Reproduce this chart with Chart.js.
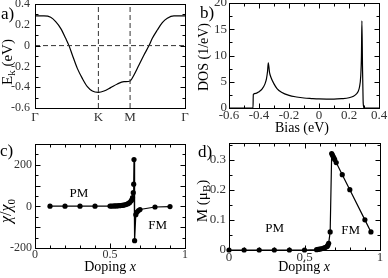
<!DOCTYPE html>
<html>
<head>
<meta charset="utf-8">
<script src="https://cdn.jsdelivr.net/npm/chart.js@4.4.1/dist/chart.umd.min.js"></script>
<style>
  body { margin: 0; background: #fff; }
  #wrap { position: relative; width: 388px; height: 278px; overflow: hidden; }
  canvas { position: absolute; }
</style>
</head>
<body>
<div id="wrap">
  <canvas id="bandChart" width="194" height="139" style="left:0;top:0"></canvas>
  <canvas id="dosChart" width="194" height="139" style="left:194px;top:0"></canvas>
  <canvas id="chiChart" width="194" height="139" style="left:0;top:139px"></canvas>
  <canvas id="magChart" width="194" height="139" style="left:194px;top:139px"></canvas>
</div>
<script>
// a) band along the path Γ-K-M-Γ
var bandK = [0, 0.189, 0.330, 0.435, 0.540, 0.645, 0.715, 0.785, 0.890, 0.995, 1.101, 1.206, 1.333,
  1.451, 1.591, 1.732, 1.872, 2.0, 2.082, 2.187, 2.292, 2.398, 2.468, 2.573, 2.678, 2.783, 2.923, 3.155];
var bandE = [0.285, 0.285, 0.272, 0.230, 0.166, 0.070, 0.0, -0.090, -0.219, -0.315, -0.395, -0.437, -0.449,
  -0.437, -0.404, -0.369, -0.347, -0.340, -0.283, -0.187, -0.090, 0.0, 0.070, 0.150, 0.220, 0.262, 0.285, 0.285];
var kPoints = [0, 1.333, 2.0, 3.155];
var kLabels = ["Γ", "K", "M", "Γ"];
var bandYTicks = [-0.6, -0.4, -0.2, 0, 0.2, 0.4];
var bandYLabels = ["-0.6", "-0.4", "-0.2", "0", "0.2", "0.4"];

// b) density of states
var dosBias = [-0.6, -0.44, -0.438, -0.42, -0.40, -0.38, -0.36, -0.35, -0.343, -0.338, -0.33, -0.32, -0.30,
  -0.28, -0.25, -0.20, -0.15, -0.10, -0.05, 0, 0.05, 0.10, 0.15, 0.20, 0.23, 0.25, 0.26, 0.27, 0.278,
  0.283, 0.286, 0.29, 0.294, 0.298, 0.30, 0.4];
var dosVal = [0, 0, 2.6, 2.8, 3.1, 3.6, 4.6, 5.6, 7.0, 8.6, 6.8, 5.8, 4.6,
  3.7, 3.0, 2.4, 2.1, 1.9, 1.8, 1.72, 1.7, 1.7, 1.78, 1.95, 2.25, 2.7, 3.1, 4.0, 6.0,
  10, 16.6, 8, 1.5, 0.2, 0, 0];
var dosXTicks = [-0.6, -0.4, -0.2, 0, 0.2, 0.4];
var dosXLabels = ["-0.6", "-0.4", "-0.2", "0", "0.2", "0.4"];
var dosYTicks = [0, 5, 10, 15, 20];
var dosYLabels = ["0", "5", "10", "15", "20"];

// c) susceptibility vs doping
var chiX = [0.1, 0.2, 0.3, 0.4, 0.5, 0.51, 0.52, 0.53, 0.54, 0.55, 0.56, 0.57, 0.58, 0.59, 0.60, 0.61,
  0.62, 0.63, 0.64, 0.645, 0.65, 0.655, 0.658, 0.66, 0.664, 0.672, 0.68, 0.69, 0.70, 0.80, 0.90];
var chiY = [1, 1, 1.1, 1.3, 1.6, 1.8, 2, 2.2, 2.5, 2.9, 3.4, 4, 4.8, 5.8, 8, 10,
  13, 18, 26, 32, 42, 66, 107, 225, -165, -40, -27, -20, -15, -3, -1];
var dopingTicks = [0, 0.5, 1];
var dopingLabels = ["0", "0.5", "1"];
var chiYTicks = [-200, 0, 200];
var chiYLabels = ["-200", "0", "200"];

// d) magnetization vs doping
var magX = [0, 0.1, 0.2, 0.3, 0.4, 0.5, 0.58, 0.59, 0.6, 0.61, 0.62, 0.63, 0.64, 0.65, 0.655, 0.66,
  0.67, 0.68, 0.685, 0.69, 0.695, 0.70, 0.71, 0.75, 0.8, 0.9, 0.94];
var magM = [0, 0, 0, 0, 0, 0, 0.001, 0.002, 0.003, 0.004, 0.005, 0.007, 0.009, 0.012, 0.016, 0.022,
  0.06, 0.32, 0.315, 0.31, 0.305, 0.30, 0.29, 0.25, 0.2, 0.1, 0.06];
var magYTicks = [0, 0.1, 0.2, 0.3];
var magYLabels = ["0", "0.1", "0.2", "0.3"];

var SERIF = "'Liberation Serif', 'Times New Roman', serif";

function pts(xs, ys) {
  return xs.map(function (x, i) { return { x: x, y: ys[i] }; });
}

function scaleOpts(min, max, vals, labels, size, pad, boxSize, horiz) {
  return {
    type: "linear", min: min, max: max,
    grid: { display: false, drawTicks: false },
    border: { display: false },
    afterBuildTicks: function (s) {
      s.ticks = vals.map(function (v) { return { value: v }; });
    },
    afterFit: function (s) {
      if (horiz) s.height = boxSize; else s.width = boxSize;
      s.paddingTop = s.paddingBottom = s.paddingLeft = s.paddingRight = 0;
    },
    ticks: {
      autoSkip: false, maxRotation: 0, padding: pad, color: "#333",
      font: { family: SERIF, size: size },
      callback: function (v, i) { return labels[i]; }
    }
  };
}

function richText(ctx, parts, x, y, size, rotate, align) {
  function font(p) {
    return (p.it ? "italic " : "") + Math.round(p.sub ? size * 0.7 : size) + "px " + SERIF;
  }
  var w = 0;
  parts.forEach(function (p) { ctx.font = font(p); w += ctx.measureText(p.t).width; });
  ctx.save();
  ctx.translate(x, y);
  if (rotate) ctx.rotate(-Math.PI / 2);
  var cx = align === "left" ? 0 : -w / 2;
  parts.forEach(function (p) {
    ctx.font = font(p);
    ctx.fillText(p.t, cx, p.sub ? size * 0.3 : 0);
    cx += ctx.measureText(p.t).width;
  });
  ctx.restore();
}

// frame, inward ticks on all sides, titles and labels
var decor = {
  id: "decor",
  afterDraw: function (chart, args, o) {
    var ctx = chart.ctx, a = chart.chartArea;
    var sx = chart.scales.x, sy = chart.scales.y;
    ctx.save();
    ctx.strokeStyle = "#000";
    ctx.lineWidth = 1;
    var L = Math.round(a.left) + 0.5, R = Math.round(a.right) + 0.5;
    var T = Math.round(a.top) + 0.5, B = Math.round(a.bottom) + 0.5;
    ctx.strokeRect(L, T, R - L, B - T);
    ctx.beginPath();
    [[o.xMajor, 5], [o.xMinor, 3]].forEach(function (g) {
      (g[0] || []).forEach(function (v) {
        var p = Math.round(sx.getPixelForValue(v)) + 0.5;
        ctx.moveTo(p, B); ctx.lineTo(p, B - g[1]);
        ctx.moveTo(p, T); ctx.lineTo(p, T + g[1]);
      });
    });
    [[o.yMajor, 5], [o.yMinor, 3]].forEach(function (g) {
      (g[0] || []).forEach(function (v) {
        var p = Math.round(sy.getPixelForValue(v)) + 0.5;
        ctx.moveTo(L, p); ctx.lineTo(L + g[1], p);
        ctx.moveTo(R, p); ctx.lineTo(R - g[1], p);
      });
    });
    ctx.stroke();

    ctx.fillStyle = "#000";
    ctx.textBaseline = "alphabetic";
    richText(ctx, [{ t: o.letter }], o.letterPos[0], o.letterPos[1], 17, false, "left");
    ctx.textBaseline = "middle";
    (o.texts || []).forEach(function (t) {
      var x = t.at[0], y = t.at[1];
      if (t.data) { x = sx.getPixelForValue(x); y = sy.getPixelForValue(y); }
      richText(ctx, t.parts, x, y, t.size || 14, t.rotate, "center");
    });
    ctx.restore();
  }
};

function baseOptions(xs, ys, padTop, padRight) {
  return {
    responsive: false,
    animation: false,
    layout: { padding: { top: padTop, right: padRight, left: 0, bottom: 0 } },
    plugins: { legend: { display: false }, tooltip: { enabled: false } },
    scales: { x: xs, y: ys }
  };
}

// a) band structure
var optA = baseOptions(
  scaleOpts(0, 3.155, kPoints, kLabels, 13, 2, 31, true),
  scaleOpts(-0.6, 0.4, bandYTicks, bandYLabels, 12, 5, 35, false), 4, 9);
optA.plugins.decor = {
  yMajor: bandYTicks, yMinor: [-0.5, -0.3, -0.1, 0.1, 0.3],
  letter: "a)", letterPos: [1, 19],
  texts: [{ at: [8, 62], rotate: true, size: 15, parts: [{ t: "E" }, { t: "k", sub: true }, { t: " (eV)" }] }]
};
new Chart(document.getElementById("bandChart"), {
  type: "line",
  data: {
    datasets: [
      { data: pts([0, 3.155], [0, 0]), borderColor: "#333", borderWidth: 1, borderDash: [5, 3], pointRadius: 0 },
      { data: pts([kPoints[1], kPoints[1]], [-0.6, 0.4]), borderColor: "#333", borderWidth: 1, borderDash: [5, 3], pointRadius: 0 },
      { data: pts([kPoints[2], kPoints[2]], [-0.6, 0.4]), borderColor: "#333", borderWidth: 1, borderDash: [5, 3], pointRadius: 0 },
      { data: pts(bandK, bandE), borderColor: "#000", borderWidth: 1.2, pointRadius: 0, cubicInterpolationMode: "monotone" }
    ]
  },
  options: optA,
  plugins: [decor]
});

// b) DOS
var optB = baseOptions(
  scaleOpts(-0.6, 0.4, dosXTicks, dosXLabels, 13, 0, 31, true),
  scaleOpts(0, 20, dosYTicks, dosYLabels, 13, 2, 35, false), 3, 9);
optB.plugins.decor = {
  xMajor: dosXTicks, xMinor: [-0.5, -0.3, -0.1, 0.1, 0.3],
  yMajor: dosYTicks, yMinor: [2.5, 7.5, 12.5, 17.5],
  letter: "b)", letterPos: [6, 18],
  texts: [
    { at: [10, 57], rotate: true, parts: [{ t: "DOS (1/eV)" }] },
    { at: [108, 128], parts: [{ t: "Bias (eV)" }] }
  ]
};
new Chart(document.getElementById("dosChart"), {
  type: "line",
  data: {
    datasets: [
      { data: pts(dosBias, dosVal), borderColor: "#000", borderWidth: 1.2, pointRadius: 0, cubicInterpolationMode: "monotone" }
    ]
  },
  options: optB,
  plugins: [decor]
});

// c) susceptibility
var optC = baseOptions(
  scaleOpts(0, 1, dopingTicks, dopingLabels, 12, 0, 30, true),
  scaleOpts(-200, 300, chiYTicks, chiYLabels, 12, 3, 35, false), 5, 9);
optC.plugins.decor = {
  xMajor: dopingTicks, xMinor: [0.1, 0.2, 0.3, 0.4, 0.6, 0.7, 0.8, 0.9],
  yMajor: [-200, -100, 0, 100, 200, 300], yMinor: [-150, -50, 50, 150, 250],
  letter: "c)", letterPos: [0, 17],
  texts: [
    { at: [7, 72], rotate: true, size: 16, parts: [{ t: "χ", it: true }, { t: "/" }, { t: "χ", it: true }, { t: "0", sub: true }] },
    { at: [110, 128], parts: [{ t: "Doping " }, { t: "x", it: true }] },
    { at: [0.293, 63], data: true, size: 13, parts: [{ t: "PM" }] },
    { at: [0.817, -92], data: true, size: 13, parts: [{ t: "FM" }] }
  ]
};
new Chart(document.getElementById("chiChart"), {
  type: "line",
  data: {
    datasets: [
      { data: pts(chiX, chiY), borderColor: "#000", borderWidth: 1.2, pointRadius: 2.6,
        pointBackgroundColor: "#000", pointBorderWidth: 0, tension: 0, clip: false }
    ]
  },
  options: optC,
  plugins: [decor]
});

// d) magnetization
var optD = baseOptions(
  scaleOpts(0, 1, dopingTicks, dopingLabels, 13, 0, 28, true),
  scaleOpts(0, 0.355, magYTicks, magYLabels, 13, 3, 35, false), 4, 8);
optD.plugins.decor = {
  xMajor: dopingTicks, xMinor: [0.1, 0.2, 0.3, 0.4, 0.6, 0.7, 0.8, 0.9],
  yMajor: magYTicks, yMinor: [0.05, 0.15, 0.25, 0.35],
  letter: "d)", letterPos: [4, 18],
  texts: [
    { at: [9, 62], rotate: true, size: 15, parts: [{ t: "M (μ" }, { t: "B", sub: true }, { t: ")" }] },
    { at: [110, 128], parts: [{ t: "Doping " }, { t: "x", it: true }] },
    { at: [0.303, 0.07], data: true, size: 13, parts: [{ t: "PM" }] },
    { at: [0.806, 0.064], data: true, size: 13, parts: [{ t: "FM" }] }
  ]
};
new Chart(document.getElementById("magChart"), {
  type: "line",
  data: {
    datasets: [
      { data: pts(magX, magM), borderColor: "#000", borderWidth: 1.2, pointRadius: 2.6,
        pointBackgroundColor: "#000", pointBorderWidth: 0, tension: 0, clip: false }
    ]
  },
  options: optD,
  plugins: [decor]
});
</script>
</body>
</html>
